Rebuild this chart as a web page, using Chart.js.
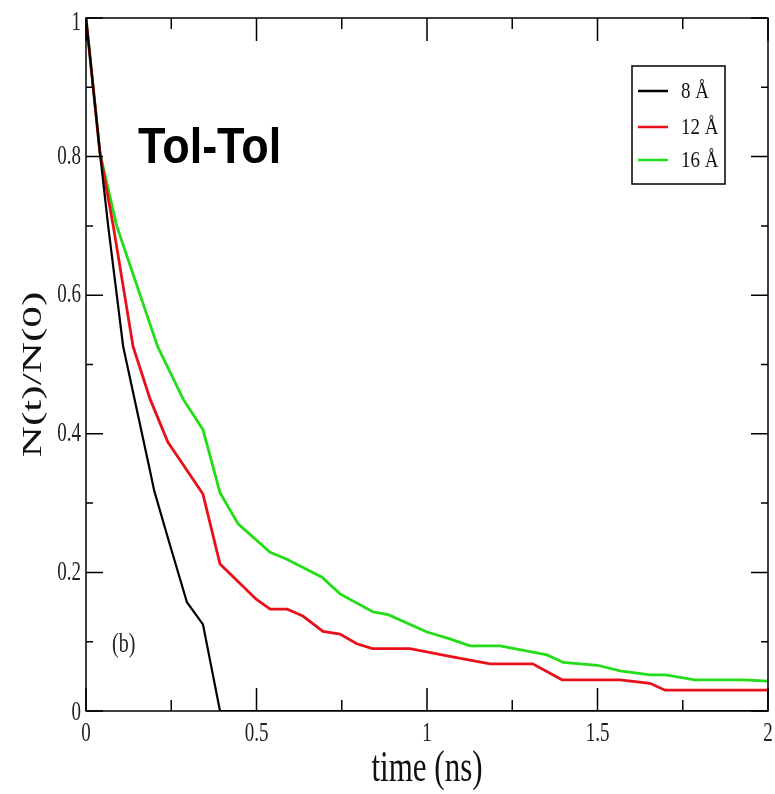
<!DOCTYPE html>
<html lang="en">
<head>
<meta charset="UTF-8">
<title>Tol-Tol</title>
<style>
  html, body { margin: 0; padding: 0; background: #fff; }
  #chart { display: block; }
</style>
</head>
<body>
<canvas id="chart" width="775" height="794"></canvas>
<script src="https://cdn.jsdelivr.net/npm/chart.js"></script>
<script>
// values
const time8  = [0, 0.041, 0.065, 0.109, 0.188, 0.2, 0.24, 0.296, 0.343, 0.393, 2];
const n8     = [1, 0.805, 0.70, 0.526, 0.346, 0.318, 0.25, 0.157, 0.125, 0, 0];

const time12 = [0, 0.041, 0.08, 0.138, 0.188, 0.24, 0.343, 0.393, 0.5, 0.54, 0.59, 0.636, 0.695, 0.745, 0.794, 0.84, 0.95, 1.067, 1.185, 1.31, 1.396, 1.566, 1.654, 1.698, 2];
const n12    = [1, 0.805, 0.70, 0.526, 0.45, 0.388, 0.313, 0.212, 0.161, 0.147, 0.147, 0.137, 0.115, 0.111, 0.097, 0.09, 0.09, 0.079, 0.068, 0.068, 0.045, 0.045, 0.04, 0.03, 0.03];

const time16 = [0, 0.041, 0.09, 0.21, 0.285, 0.343, 0.393, 0.446, 0.54, 0.589, 0.692, 0.745, 0.842, 0.886, 1.0, 1.067, 1.126, 1.214, 1.352, 1.4, 1.5, 1.566, 1.654, 1.70, 1.785, 1.927, 2];
const n16    = [1, 0.805, 0.70, 0.526, 0.45, 0.406, 0.315, 0.27, 0.229, 0.219, 0.193, 0.169, 0.143, 0.139, 0.114, 0.104, 0.094, 0.094, 0.081, 0.07, 0.066, 0.058, 0.052, 0.052, 0.045, 0.045, 0.043];

const seriesNames = ['8 Å', '12 Å', '16 Å'];
const xTicks = [0, 0.5, 1, 1.5, 2];
const xMinor = [0.25, 0.75, 1.25, 1.75];
const yTicks = [0, 0.2, 0.4, 0.6, 0.8, 1];
const yMinor = [0.1, 0.3, 0.5, 0.7, 0.9];

const colors = ['#000000', '#e8101a', '#22dd18'];
const serif = '"Liberation Serif", "Times New Roman", serif';

function pts(xs, ys) {
  return xs.map((x, i) => ({ x: x, y: ys[i] }));
}

// text in the original is tall and narrow, so stretch it a bit
function txt(c, s, x, y, font, sx, sy, align, base, rot) {
  c.save();
  c.translate(x, y);
  if (rot) c.rotate(rot);
  c.scale(sx, sy);
  c.font = font;
  c.textAlign = align;
  c.textBaseline = base;
  c.fillText(s, 0, 0);
  c.restore();
}

// frame box with inward ticks on all four sides, tick labels, legend and labels
const frameTicks = {
  id: 'frameTicks',
  afterDatasetsDraw(chart) {
    const c = chart.ctx;
    const a = chart.chartArea;
    const sx = chart.scales.x, sy = chart.scales.y;
    c.save();
    c.strokeStyle = '#000';
    c.lineWidth = 1.5;
    c.strokeRect(a.left, a.top, a.right - a.left, a.bottom - a.top);
    c.beginPath();
    xTicks.forEach(v => {
      const p = sx.getPixelForValue(v);
      c.moveTo(p, a.bottom); c.lineTo(p, a.bottom - 23);
      c.moveTo(p, a.top); c.lineTo(p, a.top + 23);
    });
    xMinor.forEach(v => {
      const p = sx.getPixelForValue(v);
      c.moveTo(p, a.bottom); c.lineTo(p, a.bottom - 11);
      c.moveTo(p, a.top); c.lineTo(p, a.top + 11);
    });
    yTicks.forEach(v => {
      const p = sy.getPixelForValue(v);
      c.moveTo(a.left, p); c.lineTo(a.left + 17, p);
      c.moveTo(a.right, p); c.lineTo(a.right - 17, p);
    });
    yMinor.forEach(v => {
      const p = sy.getPixelForValue(v);
      c.moveTo(a.left, p); c.lineTo(a.left + 7, p);
      c.moveTo(a.right, p); c.lineTo(a.right - 7, p);
    });
    c.stroke();

    // tick labels
    c.fillStyle = '#222';
    const tickFont = '19px ' + serif;
    xTicks.forEach(v => {
      txt(c, String(v), sx.getPixelForValue(v), a.bottom + 23, tickFont, 1, 1.45, 'center', 'middle');
    });
    yTicks.forEach(v => {
      const p = Math.max(sy.getPixelForValue(v), a.top + 5);
      txt(c, String(v), a.left - 5, p + (v === 0 ? 2 : 0), tickFont, 1, 1.45, 'right', 'middle');
    });

    // axis titles
    c.fillStyle = '#111';
    txt(c, 'time (ns)', (a.left + a.right) / 2, 781, '31px ' + serif, 1, 1.42, 'center', 'alphabetic');
    txt(c, 'N(t)/N(0)', 34, (a.top + a.bottom) / 2 + 10, '27px ' + serif, 1.6, 1, 'center', 'middle', -Math.PI / 2);

    // legend
    c.strokeStyle = '#000';
    c.lineWidth = 1.5;
    c.strokeRect(632, 66, 93, 118);
    const rows = [91, 127, 160];
    seriesNames.forEach((name, i) => {
      c.strokeStyle = colors[i];
      c.lineWidth = 2.5;
      c.beginPath();
      c.moveTo(638, rows[i]); c.lineTo(668, rows[i]);
      c.stroke();
      c.fillStyle = '#111';
      txt(c, name, 681, rows[i] + 1, '19px ' + serif, 1, 1.2, 'left', 'middle');
    });

    // panel labels
    c.fillStyle = '#000';
    txt(c, 'Tol-Tol', 138, 163, 'bold 45px "Liberation Sans", Arial, sans-serif', 1, 1.1, 'left', 'alphabetic');
    c.fillStyle = '#222';
    txt(c, '(b)', 112, 645, '20px ' + serif, 1, 1.4, 'left', 'middle');
    c.restore();
  }
};

new Chart(document.getElementById('chart'), {
  type: 'line',
  data: {
    datasets: [
      { label: seriesNames[0], data: pts(time8, n8) },
      { label: seriesNames[1], data: pts(time12, n12) },
      { label: seriesNames[2], data: pts(time16, n16) }
    ].map((d, i) => Object.assign(d, {
      borderColor: colors[i],
      borderWidth: i === 0 ? 2.2 : 2.8,
      pointRadius: 0,
      tension: 0,
      fill: false
    }))
  },
  options: {
    responsive: false,
    animation: false,
    devicePixelRatio: 1,
    layout: { padding: { top: 18, right: 7, left: 0, bottom: 0 } },
    plugins: { legend: { display: false }, tooltip: { enabled: false } },
    scales: {
      x: {
        type: 'linear',
        min: 0, max: 2,
        afterBuildTicks: s => { s.ticks = xTicks.map(v => ({ value: v })); },
        afterFit: s => { s.height = 83; s.paddingLeft = 0; s.paddingRight = 0; },
        grid: { display: false, drawTicks: false },
        border: { display: false },
        ticks: { display: false }
      },
      y: {
        type: 'linear',
        min: 0, max: 1,
        afterBuildTicks: s => { s.ticks = yTicks.map(v => ({ value: v })); },
        afterFit: s => { s.width = 86; s.paddingTop = 0; s.paddingBottom = 0; },
        grid: { display: false, drawTicks: false },
        border: { display: false },
        ticks: { display: false }
      }
    }
  },
  plugins: [frameTicks]
});
</script>
</body>
</html>
